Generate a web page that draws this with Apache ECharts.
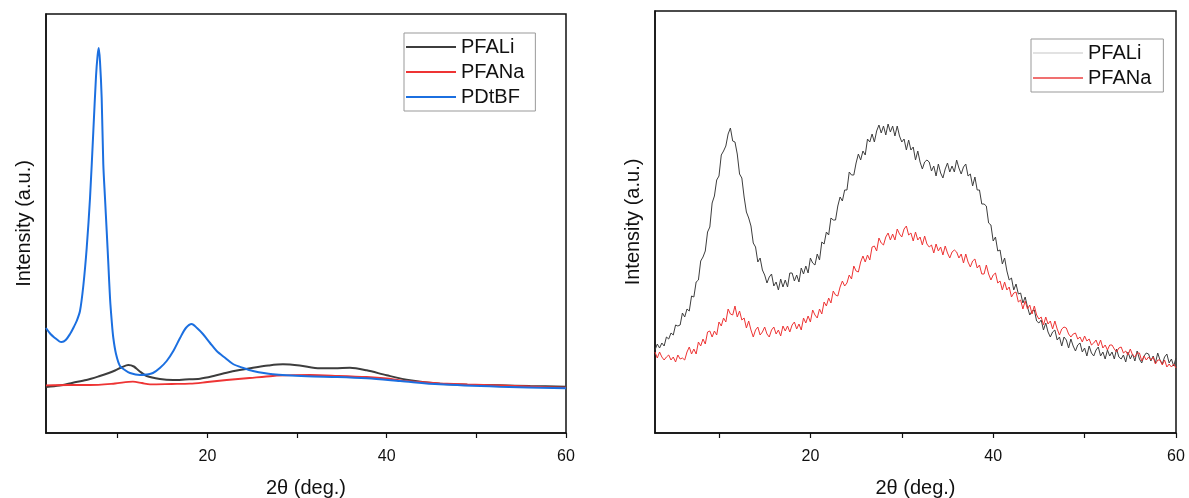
<!DOCTYPE html>
<html>
<head>
<meta charset="utf-8">
<script src="https://cdn.jsdelivr.net/npm/echarts@6/dist/echarts.min.js"></script>
<style>
  html, body { margin: 0; padding: 0; background: #fff; }
  #chart { width: 1189px; height: 498px; }
</style>
</head>
<body>
<div id="chart"></div>
<script>
// ---- Left panel: XRD patterns of the three polymers, [2θ, intensity] ----
const pfaLiLeft = [
  [2.0, 46], [3.5, 47.5], [5.0, 50.3], [6.5, 53], [8.0, 57], [9.0, 60], [9.7, 62.5],
  [10.5, 66], [11.18, 68], [11.8, 66.5], [12.4, 62], [13.23, 57], [14.7, 54], [16.16, 53],
  [17.5, 53.5], [19.18, 54.3], [20.7, 57], [22.15, 60.3], [23.6, 63], [25.09, 65.3],
  [26.8, 67.5], [28.43, 68.7], [30.3, 67.5], [32.56, 64.7], [34.2, 64.7], [35.9, 65.3],
  [37.77, 62.7], [40.0, 57.7], [42.6, 52.7], [45.94, 49.3], [49, 48.3], [52.6, 47.7],
  [56, 47], [60, 46.3]
];
const pfaNaLeft = [
  [2.0, 47.7], [4.5, 48], [6.9, 48], [9.7, 49.5], [11.7, 51.3], [12.7, 50], [13.6, 48.7],
  [16, 49], [18.06, 49.3], [20, 51], [22.15, 53], [24.7, 55], [27.3, 57], [29.5, 57.8],
  [31.45, 58], [34.5, 57.2], [37.77, 56], [40, 54.5], [41.5, 52.7], [43.7, 51],
  [45.94, 49.7], [49, 48.6], [52.6, 47.7], [56, 46.5], [60, 45.3]
];
const pdtbfLeft = [
  [2.0, 105], [2.5, 99], [3.0, 95], [3.5, 91.5], [3.75, 91], [4.2, 93], [4.68, 99],
  [5.1, 106], [5.42, 112], [5.79, 122], [6.16, 147], [6.54, 185], [6.91, 235], [7.28, 302],
  [7.58, 357], [7.75, 377], [7.88, 385], [8.02, 372], [8.21, 335], [8.39, 269], [8.58, 235],
  [8.77, 202], [8.96, 168], [9.14, 135], [9.33, 112], [9.51, 95], [9.81, 79], [10.25, 67],
  [10.8, 63], [11.37, 60], [12.48, 58], [13.2, 58.5], [13.93, 60], [14.7, 65], [15.46, 72],
  [16.2, 82], [16.95, 95], [17.6, 105], [18.25, 109], [18.84, 105], [19.5, 99], [20.3, 90],
  [21.04, 82], [22.0, 75], [22.86, 69], [24.0, 65], [25.09, 62], [27.3, 58.7], [31.1, 56.7],
  [34.5, 56], [37.8, 54.7], [41.5, 52], [45.9, 48.7], [52.6, 46.3], [60, 44.7]
];

// ---- Right panel: scans of PFALi and PFANa, 2θ from 3° to 60° in 0.25° steps ----
const rightStart = 3;
const rightStep = 0.25;
const pfaLiRight = [
  83, 89, 85, 90, 87, 96, 94, 100, 98, 108, 107, 108,
  120, 116, 124, 122, 137, 136, 151, 153, 172, 176, 182, 201,
  206, 230, 237, 253, 257, 278, 282, 287, 299, 305, 292, 291,
  279, 259, 255, 236, 221, 215, 207, 190, 186, 171, 175, 163,
  158, 150, 156, 159, 147, 151, 143, 154, 146, 153, 146, 160,
  160, 152, 158, 151, 165, 159, 167, 160, 175, 170, 168, 179,
  173, 191, 189, 201, 198, 215, 213, 213, 227, 236, 232, 243,
  243, 261, 258, 258, 270, 279, 273, 282, 278, 294, 291, 299,
  291, 302, 308, 300, 307, 298, 309, 301, 307, 297, 307, 297,
  291, 294, 283, 293, 283, 286, 273, 282, 271, 264, 271, 273,
  271, 262, 267, 257, 269, 260, 255, 264, 270, 261, 267, 261,
  273, 265, 259, 266, 269, 257, 259, 247, 256, 243, 243, 229,
  229, 227, 210, 208, 192, 196, 182, 183, 169, 175, 162, 153,
  155, 143, 149, 139, 140, 130, 136, 126, 118, 122, 123, 112,
  110, 113, 103, 110, 101, 96, 101, 103, 93, 96, 87, 96,
  93, 85, 94, 87, 82, 88, 90, 81, 85, 77, 87, 80,
  77, 83, 86, 77, 81, 74, 83, 77, 81, 74, 84, 76,
  74, 78, 71, 81, 74, 79, 72, 82, 74, 70, 77, 80,
  79, 72, 77, 70, 80, 73, 69, 76, 79, 70, 74, 67,
  75
];
const pfaNaRight = [
  81, 75, 81, 76, 73, 76, 78, 73, 76, 71, 78, 74,
  75, 73, 81, 86, 79, 84, 79, 91, 87, 94, 89, 101,
  102, 96, 102, 98, 111, 107, 115, 111, 124, 119, 118, 127,
  116, 122, 113, 115, 105, 112, 103, 96, 103, 106, 98, 101,
  106, 99, 96, 103, 106, 99, 103, 97, 107, 102, 107, 101,
  108, 111, 104, 109, 103, 115, 110, 117, 111, 123, 118, 115,
  124, 119, 131, 127, 135, 130, 142, 138, 137, 146, 152, 147,
  150, 158, 154, 167, 162, 161, 171, 177, 171, 178, 173, 186,
  187, 182, 195, 190, 188, 196, 200, 193, 199, 193, 204, 199,
  196, 204, 207, 198, 200, 192, 201, 193, 196, 188, 197, 189,
  186, 188, 180, 189, 182, 186, 178, 187, 180, 175, 181, 183,
  181, 175, 179, 170, 179, 171, 166, 172, 174, 165, 168, 159,
  159, 168, 159, 153, 158, 160, 150, 152, 143, 151, 143, 146,
  136, 140, 141, 131, 133, 124, 132, 124, 128, 119, 127, 118,
  114, 116, 108, 116, 109, 112, 104, 112, 104, 98, 104, 106,
  105, 99, 96, 99, 100, 94, 96, 91, 97, 92, 94, 88,
  90, 93, 87, 93, 85, 88, 83, 88, 88, 84, 81, 85,
  86, 80, 82, 78, 84, 78, 76, 80, 80, 72, 77, 73,
  76, 73, 76, 69, 73, 73, 68, 73, 66, 69, 66, 69,
  65
];

const tickValues = [10, 20, 30, 40, 50, 60];
const tickLabels = [20, 40, 60];
const xTitle = '2θ (deg.)';
const yTitle = 'Intensity (a.u.)';

const FONT = '"Liberation Sans", Arial, Helvetica, sans-serif';
const C_BLACK = '#3d3d3d';
const C_RED = '#ee3434';
const C_BLUE = '#1b6fe0';

function withTheta(values) {
  return values.map((v, i) => [rightStart + i * rightStep, v]);
}

function xAxisFor(gridIndex, min) {
  return {
    type: 'value', gridIndex, min, max: 60,
    axisLine: { show: true, onZero: false, lineStyle: { color: '#111', width: 1.5 } },
    axisTick: { show: true, customValues: tickValues, length: 5, lineStyle: { color: '#111', width: 1.2 } },
    axisLabel: { show: true, customValues: tickLabels, color: '#111', fontSize: 16, margin: 16, fontFamily: FONT },
    splitLine: { show: false },
    name: xTitle, nameLocation: 'middle', nameGap: 45,
    nameTextStyle: { fontSize: 20, color: '#111', fontFamily: FONT }
  };
}

function yAxisFor(gridIndex, max) {
  return {
    type: 'value', gridIndex, min: 0, max,
    axisLine: { show: true, onZero: false, lineStyle: { color: '#111', width: 1.5 } },
    axisTick: { show: false },
    axisLabel: { show: false },
    splitLine: { show: false },
    name: yTitle, nameLocation: 'middle', nameGap: 12, nameRotate: 90,
    nameTextStyle: { fontSize: 20, color: '#111', fontFamily: FONT }
  };
}

function lineSeries(name, data, color, width, axisIndex, smooth) {
  return {
    type: 'line', name, data,
    xAxisIndex: axisIndex, yAxisIndex: axisIndex,
    showSymbol: false, symbol: 'none',
    smooth: smooth,
    lineStyle: { color, width },
    itemStyle: { color },
    animation: false
  };
}

const legendBase = {
  orient: 'vertical', icon: 'rect', itemWidth: 50, itemHeight: 2,
  itemGap: 5, selectedMode: false,
  borderColor: '#999', borderWidth: 1,
  textStyle: { fontSize: 20, color: '#111', fontFamily: FONT }
};

const chart = echarts.init(document.getElementById('chart'), null, { renderer: 'canvas' });
chart.setOption({
  backgroundColor: '#fff',
  animation: false,
  grid: [
    { left: 46, top: 14, width: 520, height: 419, outerBoundsMode: 'none', containLabel: false,
      show: true, borderColor: '#111', borderWidth: 1.5 },
    { left: 655, top: 11, width: 521, height: 422, outerBoundsMode: 'none', containLabel: false,
      show: true, borderColor: '#111', borderWidth: 1.5 }
  ],
  xAxis: [xAxisFor(0, 2), xAxisFor(1, 3)],
  yAxis: [yAxisFor(0, 419), yAxisFor(1, 422)],
  legend: [
    Object.assign({}, legendBase, {
      left: 404, top: 33, padding: [4, 11, 4, 2],
      data: [
        { name: 'PFALi', itemStyle: { color: C_BLACK } },
        { name: 'PFANa', itemStyle: { color: C_RED } },
        { name: 'PDtBF', itemStyle: { color: C_BLUE } }
      ]
    }),
    Object.assign({}, legendBase, {
      left: 1031, top: 39, padding: [4, 12, 4, 2],
      data: [
        { name: 'PFALi', itemStyle: { color: '#e2e2e2' } },
        { name: 'PFANa', itemStyle: { color: '#f07070' } }
      ]
    })
  ],
  series: [
    lineSeries('PFALi', pfaLiLeft, C_BLACK, 2, 0, 0.3),
    lineSeries('PFANa', pfaNaLeft, C_RED, 1.8, 0, 0.3),
    lineSeries('PDtBF', pdtbfLeft, C_BLUE, 2, 0, 0.3),
    lineSeries('PFALi', withTheta(pfaLiRight), C_BLACK, 1, 1, false),
    lineSeries('PFANa', withTheta(pfaNaRight), C_RED, 1, 1, false)
  ]
});
</script>
</body>
</html>
